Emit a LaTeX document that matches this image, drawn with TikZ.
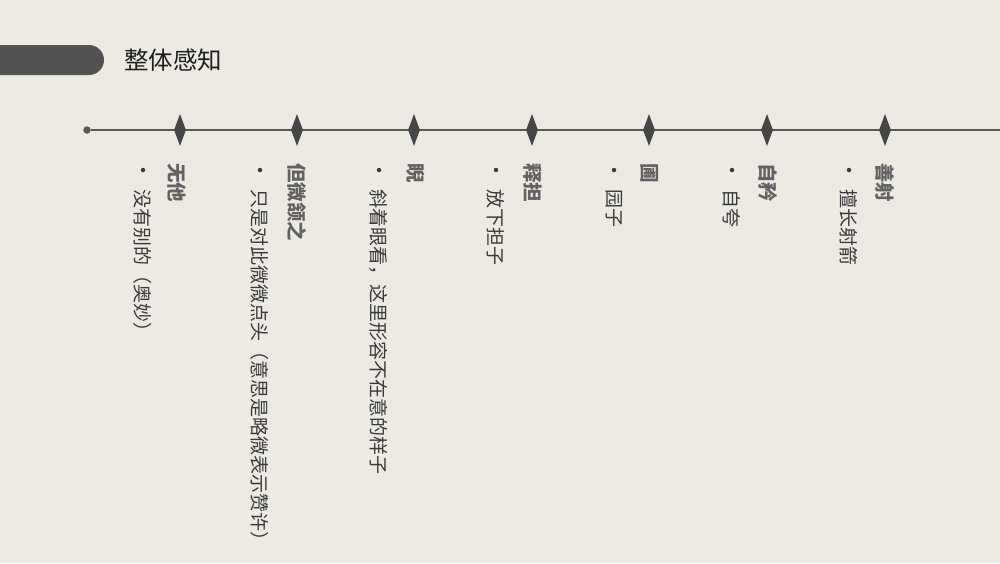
\documentclass[tikz,border=0pt]{standalone}
\usepackage{fontspec}
\setmainfont{Noto Sans CJK SC}
\usetikzlibrary{shapes.geometric}
\usepackage{xcolor}
\definecolor{paper}{RGB}{237,234,228}
\definecolor{tabgrey}{RGB}{82,82,82}
\definecolor{linegrey}{RGB}{88,88,88}
\definecolor{headgrey}{RGB}{98,98,98}
\definecolor{itemgrey}{RGB}{58,58,58}
\tikzset{
  milestone/.style={diamond, fill=tabgrey!85!black, minimum width=12pt, minimum height=32pt, inner sep=0pt},
  headtext/.style={rotate=-90, anchor=west, inner sep=0pt, text=headgrey, font=\fontsize{19.5}{20}\selectfont\bfseries},
  itemtext/.style={rotate=-90, anchor=west, inner sep=0pt, text=itemgrey, font=\fontsize{19}{20}\selectfont},
  itemdot/.style={circle, fill=itemgrey, minimum size=4.5pt, inner sep=0pt}
}

\begin{document}
\begin{tikzpicture}[x=1pt, y=-1pt]
	% Paper background
	\fill[paper] (0,0) rectangle (1000,563);
	\useasboundingbox (0,0) rectangle (1000,563);
	% Title tab
	\fill[tabgrey, rounded corners=15pt] (-20,45) rectangle (104,75);
	\node[anchor=west, inner sep=0pt, text=black!88, font=\fontsize{24.5}{25}\selectfont] (title) at (124,60) {整体感知};
	% Time line
	\node[circle, fill=linegrey, minimum size=7.5pt, inner sep=0pt] (start) at (87,130) {};
	\coordinate (end) at (1000,130);
	\draw[linegrey, line width=1.8pt] (start) -- (end);
	\node[milestone] (d1) at (180,130) {};
	\node[milestone] (d2) at (297,130) {};
	\node[milestone] (d3) at (414,130) {};
	\node[milestone] (d4) at (532,130) {};
	\node[milestone] (d5) at (649,130) {};
	\node[milestone] (d6) at (767,130) {};
	\node[milestone] (d7) at (885,130) {};
	% Headings
	\node[headtext] (h1) at (177,163) {无他};
	\node[headtext] (h2) at (297,163) {但微颔之};
	\node[headtext] (h3) at (416,163) {睨};
	\node[headtext] (h4) at (533,163) {释担};
	\node[headtext] (h5) at (650,163) {圃};
	\node[headtext] (h6) at (768,163) {自矜};
	\node[headtext] (h7) at (885,163) {善射};
	% Bullet items
	\node[itemdot] at (143,170) {};
	\node[itemtext] (t1) at (143,189) {没有别的（奥妙）};
	\node[itemdot] at (260,170) {};
	\node[itemtext] (t2) at (260,189) {只是对此微微点头（意思是略微表示赞许）};
	\node[itemdot] at (379,170) {};
	\node[itemtext] (t3) at (379,189) {斜着眼看，这里形容不在意的样子};
	\node[itemdot] at (496,170) {};
	\node[itemtext] (t4) at (496,189) {放下担子};
	\node[itemdot] at (614,170) {};
	\node[itemtext] (t5) at (614,189) {园子};
	\node[itemdot] at (732,170) {};
	\node[itemtext] (t6) at (732,189) {自夸};
	\node[itemdot] at (849,170) {};
	\node[itemtext] (t7) at (849,189) {擅长射箭};
\end{tikzpicture}
\end{document}
